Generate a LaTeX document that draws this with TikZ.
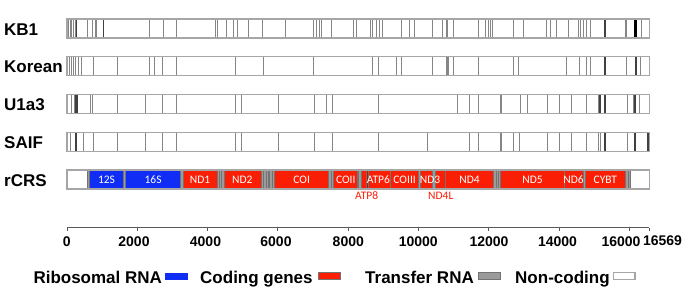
\documentclass[tikz,border=0pt]{standalone}
\usepackage{fontspec}
\setmainfont{Liberation Sans}
\newfontfamily\genefont{Carlito}
\definecolor{rrnablue}{RGB}{15,45,245}
\definecolor{genered}{RGB}{250,30,5}
\definecolor{overlapred}{RGB}{185,20,10}
\definecolor{trnagray}{RGB}{155,155,155}
\begin{document}
\begin{tikzpicture}[x=1pt,y=-1pt,
    rowlabel/.style={anchor=base west,inner sep=0pt,font=\fontsize{17}{17}\selectfont\bfseries},
    ticklabel/.style={inner sep=0pt,font=\fontsize{14}{14}\selectfont\bfseries},
    legendlabel/.style={anchor=base west,inner sep=0pt,font=\fontsize{17}{17}\selectfont\bfseries},
    genelabel/.style={inner sep=0pt,text=white,font=\genefont\fontsize{11.5}{11.5}\selectfont},
    sublabel/.style={inner sep=0pt,text=genered,font=\genefont\fontsize{11.5}{11.5}\selectfont},
    barline/.style={draw=gray!70,line width=1.1pt},
    snp/.style={draw=gray!95,line width=1pt},
    darksnp/.style={draw=black!75,line width=1.1pt},
    blacksnp/.style={draw=black,line width=2.8pt},
    segment/.style={draw=black!55,line width=0.5pt},
    axisline/.style={draw=black!65,line width=0.9pt}]
\useasboundingbox (0,0) rectangle (685,295);
% row labels
\foreach \nm/\yc/\txt in {kbone/28.5/KB1,korean/66.25/Korean,ufour/104/U1a3,saif/141.75/SAIF,rcrs/179.5/rCRS}
  \node[rowlabel] (\nm) at (4,\yc+6.5) {\txt};
% KB1
\foreach \x in {68.3,70,71.7,73.3,75,87.3,92.7,95,96.7,149,163.3,176,215,217.3,226,233.3,237.3,248.3,262.7,285,313.3,316.7,319.3,321.7,331.7,353.3,356.7,370.7,372.7,376,379.3,382.7,401.7,409.3,414,432.7,442.7,446,447.3,453.3,478.3,485,488.3,490,492.7,513.3,523.3,546.7,550.7,556.7,568.3,578.3,580,583.3,586,590.7,625,626.7,641.7}
  \draw[snp] (\x,19) -- (\x,38);
\foreach \x in {76.7,103.3,605}
  \draw[darksnp] (\x,19) -- (\x,38);
\draw[blacksnp] (635.7,19) -- (635.7,38);
\draw[barline] (67,19) rectangle (649.4,38);
% Korean
\foreach \x in {69,71.3,73.6,75.9,78.2,81,93.3,117.3,149,154,162.7,176,235,263.3,313.3,372.7,378.3,396,401.7,432.7,453.3,478.3,513.3,518.3,566.7,579.3,586,590.7,626.7,640}
  \draw[snp] (\x,56.75) -- (\x,75.75);
\draw[snp,line width=2.6pt] (447.7,56.75) -- (447.7,75.75);
\foreach \x in {605}
  \draw[darksnp] (\x,56.75) -- (\x,75.75);
\draw[darksnp,line width=1.8pt] (635.8,56.75) -- (635.8,75.75);
\draw[barline] (67,56.75) rectangle (649.4,75.75);
% U1a3
\foreach \x in {71.7,74,90,92.7,117.3,145,162.7,176,235,241.7,278.3,314,326.5,332,378.3,457.3,469.3,478.3,500,501.7,520,527.3,547.3,559.3,571.7,586.7,598.3,627.3,633.3,639.3}
  \draw[snp] (\x,94.5) -- (\x,113.5);
\foreach \x in {76,77.3,600,605,635}
  \draw[darksnp] (\x,94.5) -- (\x,113.5);
\draw[barline] (67,94.5) rectangle (649.4,113.5);
% SAIF
\foreach \x in {70.5,83.5,93,117.3,145,162.7,176,235,241.7,278.3,314,332.5,378.3,427.3,469.3,478.3,500,501.7,513.3,519,547.3,559.3,571.7,586.7,598.3,600,627.3}
  \draw[snp] (\x,132.25) -- (\x,151.25);
\foreach \x in {76,605,635,648}
  \draw[darksnp] (\x,132.25) -- (\x,151.25);
\draw[barline] (67,132.25) rectangle (649.4,151.25);
% rCRS, positions in kb
\begin{scope}[xshift=67pt,x=35.15pt]
  \foreach \a/\b in {0.647/1.602,1.670/3.230}
    \draw[segment,fill=rrnablue] (\a,170) rectangle (\b,189);
  \foreach \a/\b in {3.306/4.263,4.469/5.512,5.903/7.446,7.585/8.270,8.365/8.527,8.572/9.207,9.207/9.991,10.058/10.405,10.469/10.760,10.766/12.138,12.336/14.149,14.149/14.674,14.746/15.888}
    \draw[segment,fill=genered] (\a,170) rectangle (\b,189);
  \foreach \a/\b in {8.527/8.572,10.760/10.766}
    \draw[segment,fill=overlapred] (\a,170) rectangle (\b,189);
  \foreach \a/\b in {0.577/0.647,1.602/1.670,3.230/3.306,4.263/4.469,5.512/5.903,7.446/7.585,8.270/8.365,9.991/10.058,10.405/10.469,12.138/12.336,14.674/14.746,15.888/16.023}
    \draw[segment,fill=trnagray] (\a,170) rectangle (\b,189);
  \foreach \k in {4.331,4.400,5.579,5.587,5.655,5.729,5.761,5.826,5.891,7.516,8.295,12.206,12.265,15.954}
    \draw[segment] (\k,170) -- (\k,189);
  \draw[barline] (0,170) rectangle (16.569,189);
  \foreach \nm/\k/\txt in {rs/1.125/12S,rl/2.45/16S,ndone/3.785/ND1,ndtwo/4.99/ND2,coone/6.675/COI,cotwo/7.93/COII,atpsix/8.86/ATP6,cothree/9.605/COIII,ndthree/10.327/ND3,ndfour/11.452/ND4,ndfive/13.243/ND5,ndsix/14.412/ND6,cytb/15.317/CYBT}
    \node[genelabel] (\nm) at (\k,179.5) {\txt};
  \node[sublabel] (atpeight) at (8.526,196) {ATP8};
  \node[sublabel] (ndfourl) at (10.634,196) {ND4L};
  % axis
  \draw[axisline] (0,227.5) -- (16.569,227.5);
  \foreach \k in {0,2,...,16}
    \draw[axisline] (\k,227.5) -- (\k,231);
  \draw[axisline] (16.569,227.5) -- (16.569,231);
\end{scope}
\foreach \px/\txt in {66.7/0,134/2000,205.5/4000,276/6000,348.3/8000,418.3/10000,489/12000,557.5/14000,621/16000}
  \node[ticklabel] (tk\txt) at (\px,242) {\txt};
\node[ticklabel] (tkend) at (662.5,240.5) {16569};
% legend
\node[legendlabel] (ribo) at (33.3,283) {Ribosomal RNA};
\draw[fill=rrnablue,draw=rrnablue] (165,272.7) rectangle (186.7,279.3);
\node[legendlabel] (coding) at (200,283) {Coding genes};
\draw[segment,fill=genered] (318.3,272.7) rectangle (340,279.3);
\node[legendlabel] (trna) at (365,283) {Transfer RNA};
\draw[segment,fill=trnagray] (478.3,272.7) rectangle (500,279.3);
\node[legendlabel] (noncod) at (515,283) {Non-coding};
\draw[barline,fill=white] (613.3,272.7) rectangle (635,279.3);
\end{tikzpicture}
\end{document}
